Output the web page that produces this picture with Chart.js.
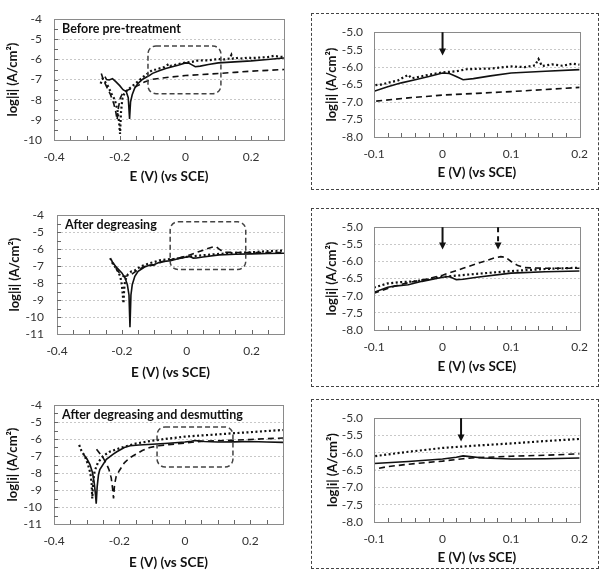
<!DOCTYPE html>
<html>
<head>
<meta charset="utf-8">
<script src="https://cdn.jsdelivr.net/npm/chart.js@4.4.1/dist/chart.umd.min.js"></script>
<style>
body { margin: 0; background: #fff; width: 608px; height: 570px; overflow: hidden; position: relative; }
.pane { position: absolute; }
.zoombox { position: absolute; border: 1.5px dashed #444; box-sizing: border-box; }
</style>
</head>
<body>
<div class="zoombox" style="left:311px;top:13px;width:288px;height:177px"></div>
<div class="zoombox" style="left:311px;top:208px;width:288px;height:179px"></div>
<div class="zoombox" style="left:311px;top:399px;width:288px;height:170px"></div>

<div class="pane" style="left:0;top:0;width:300px;height:190px"><canvas id="c1"></canvas></div>
<div class="pane" style="left:312px;top:14px;width:286px;height:175px"><canvas id="c2"></canvas></div>
<div class="pane" style="left:0;top:195px;width:300px;height:190px"><canvas id="c3"></canvas></div>
<div class="pane" style="left:312px;top:209px;width:286px;height:177px"><canvas id="c4"></canvas></div>
<div class="pane" style="left:0;top:385px;width:300px;height:190px"><canvas id="c5"></canvas></div>
<div class="pane" style="left:312px;top:400px;width:286px;height:168px"><canvas id="c6"></canvas></div>

<script>
// tick labels
const wideXTicks = [-0.4, -0.2, 0, 0.2];
const zoomXTicks = [-0.1, 0, 0.1, 0.2];
const beforeYTicks = [-4, -5, -6, -7, -8, -9, -10];
const laterYTicks = [-4, -5, -6, -7, -8, -9, -10, -11];
const zoomYTicks = [-5, -5.5, -6, -6.5, -7, -7.5, -8];

// [E (V), log|i|] - before pre-treatment
const beforeSolid = [[-0.245,-6.85],[-0.24,-7.0],[-0.232,-7.02],[-0.222,-6.95],[-0.212,-7.1],[-0.2,-7.3],[-0.19,-7.5],[-0.18,-7.6],[-0.174,-7.9],[-0.17,-8.95],[-0.167,-8.1],[-0.162,-7.75],[-0.155,-7.45],[-0.145,-7.2],[-0.13,-6.98],[-0.11,-6.8],[-0.1,-6.69],[-0.08,-6.56],[-0.06,-6.45],[-0.04,-6.36],[-0.02,-6.27],[0,-6.17],[0.01,-6.18],[0.02,-6.27],[0.03,-6.36],[0.045,-6.33],[0.07,-6.25],[0.1,-6.17],[0.15,-6.12],[0.2,-6.07],[0.25,-6.0],[0.3,-5.93]];
const beforeDashed = [[-0.256,-6.7],[-0.25,-7.0],[-0.24,-7.35],[-0.228,-7.75],[-0.218,-8.2],[-0.212,-8.6],[-0.208,-9.0],[-0.204,-8.4],[-0.198,-7.9],[-0.19,-7.65],[-0.18,-7.55],[-0.165,-7.45],[-0.145,-7.3],[-0.125,-7.12],[-0.1,-6.98],[-0.05,-6.88],[0,-6.8],[0.05,-6.75],[0.1,-6.7],[0.15,-6.64],[0.2,-6.58],[0.25,-6.54],[0.3,-6.5]];
const beforeDotted = [[-0.258,-7.2],[-0.252,-6.95],[-0.245,-7.1],[-0.235,-7.35],[-0.225,-7.7],[-0.215,-8.0],[-0.207,-8.5],[-0.202,-9.1],[-0.199,-9.7],[-0.196,-8.6],[-0.192,-7.95],[-0.185,-7.65],[-0.175,-7.5],[-0.16,-7.3],[-0.145,-7.1],[-0.13,-6.88],[-0.115,-6.7],[-0.1,-6.52],[-0.09,-6.5],[-0.08,-6.45],[-0.065,-6.38],[-0.05,-6.22],[-0.045,-6.32],[-0.03,-6.26],[-0.015,-6.2],[0,-6.15],[0.02,-6.12],[0.035,-6.06],[0.05,-6.05],[0.07,-6.04],[0.09,-6.0],[0.1,-5.98],[0.12,-6.0],[0.135,-5.95],[0.14,-5.77],[0.145,-5.97],[0.16,-5.92],[0.175,-5.96],[0.19,-5.9],[0.2,-5.93],[0.23,-5.9],[0.25,-5.88],[0.27,-5.82],[0.28,-5.85],[0.3,-5.88]];

// after degreasing
const degSolid = [[-0.227,-6.8],[-0.22,-7.0],[-0.21,-7.2],[-0.2,-7.4],[-0.19,-7.7],[-0.183,-8.1],[-0.178,-8.7],[-0.175,-10.6],[-0.172,-8.7],[-0.168,-8.1],[-0.16,-7.6],[-0.15,-7.3],[-0.13,-7.05],[-0.113,-6.94],[-0.1,-6.9],[-0.08,-6.75],[-0.07,-6.72],[-0.05,-6.68],[-0.03,-6.58],[0,-6.46],[0.01,-6.44],[0.02,-6.53],[0.03,-6.52],[0.05,-6.46],[0.1,-6.34],[0.15,-6.3],[0.2,-6.28],[0.25,-6.26],[0.3,-6.24]];
const degDashed = [[-0.233,-6.6],[-0.226,-6.9],[-0.216,-7.2],[-0.205,-7.45],[-0.195,-7.6],[-0.185,-7.58],[-0.17,-7.48],[-0.15,-7.22],[-0.13,-7.02],[-0.1,-6.93],[-0.07,-6.72],[-0.05,-6.62],[-0.02,-6.5],[0,-6.4],[0.03,-6.2],[0.06,-6.0],[0.075,-5.9],[0.085,-5.86],[0.092,-5.88],[0.1,-6.0],[0.11,-6.12],[0.12,-6.18],[0.15,-6.2],[0.2,-6.2],[0.25,-6.2],[0.3,-6.2]];
const degDotted = [[-0.236,-6.53],[-0.228,-6.85],[-0.215,-7.2],[-0.205,-7.6],[-0.2,-8.1],[-0.197,-8.7],[-0.195,-9.2],[-0.193,-8.4],[-0.19,-7.85],[-0.182,-7.5],[-0.17,-7.3],[-0.159,-7.24],[-0.14,-7.0],[-0.113,-6.82],[-0.1,-6.76],[-0.08,-6.64],[-0.06,-6.6],[-0.04,-6.58],[-0.02,-6.52],[0,-6.45],[0.05,-6.36],[0.1,-6.28],[0.15,-6.22],[0.2,-6.18],[0.25,-6.12],[0.3,-6.08]];

// after degreasing and desmutting
const desSolid = [[-0.31,-6.9],[-0.3,-7.15],[-0.29,-7.5],[-0.282,-8.0],[-0.277,-8.6],[-0.273,-9.3],[-0.271,-9.8],[-0.268,-8.8],[-0.264,-8.1],[-0.26,-7.8],[-0.24,-7.2],[-0.22,-6.9],[-0.208,-6.75],[-0.185,-6.5],[-0.167,-6.4],[-0.14,-6.35],[-0.1,-6.31],[-0.05,-6.25],[0,-6.18],[0.02,-6.13],[0.03,-6.09],[0.04,-6.11],[0.06,-6.15],[0.1,-6.18],[0.15,-6.17],[0.2,-6.15],[0.25,-6.18],[0.3,-6.2]];
const desDashed = [[-0.27,-6.6],[-0.26,-6.85],[-0.25,-7.1],[-0.24,-7.45],[-0.232,-7.8],[-0.225,-8.3],[-0.221,-8.9],[-0.218,-9.5],[-0.215,-8.7],[-0.21,-8.2],[-0.2,-7.85],[-0.185,-7.4],[-0.168,-7.1],[-0.15,-6.9],[-0.13,-6.68],[-0.107,-6.5],[-0.08,-6.4],[-0.05,-6.33],[0,-6.24],[0.03,-6.17],[0.05,-6.14],[0.1,-6.1],[0.15,-6.07],[0.2,-6.03],[0.25,-5.98],[0.3,-5.94]];
const desDotted = [[-0.323,-6.35],[-0.316,-6.7],[-0.306,-7.0],[-0.296,-7.5],[-0.289,-8.0],[-0.285,-8.6],[-0.283,-9.5],[-0.28,-8.5],[-0.276,-7.9],[-0.266,-7.4],[-0.25,-7.0],[-0.23,-6.75],[-0.2,-6.55],[-0.17,-6.37],[-0.15,-6.27],[-0.1,-6.1],[-0.05,-5.97],[0,-5.86],[0.05,-5.79],[0.1,-5.73],[0.15,-5.66],[0.2,-5.6],[0.25,-5.53],[0.3,-5.47]];

// zoom windows [E from, E to, log top, log bottom]
const boxBefore = [-0.114, 0.108, -5.33, -7.7];
const boxDegreasing = [-0.051, 0.182, -4.39, -7.2];
const boxDesmutting = [-0.085, 0.147, -5.29, -7.65];

// arrows [E, log|i| at tip, dashed]
const arrowsBefore = [[0, -5.67, false]];
const arrowsDegreasing = [[0, -5.65, false], [0.081, -5.65, true]];
const arrowsDesmutting = [[0.027, -5.67, false]];

const FONT = "Lato, 'Open Sans', sans-serif";
const decor = {};

const panelDecor = {
    id: "panelDecor",
    afterDraw(chart) {
        const d = decor[chart.canvas.id];
        const { ctx, chartArea: a } = chart;
        const x = chart.scales.x, y = chart.scales.y;
        ctx.save();
        // plot frame
        ctx.strokeStyle = "#8a8a8a";
        ctx.lineWidth = 1;
        ctx.strokeRect(Math.round(a.left) + 0.5, Math.round(a.top) + 0.5, Math.round(a.width), Math.round(a.height));
        // inward minor ticks
        ctx.strokeStyle = "#666";
        ctx.beginPath();
        for (let i = 1; x.min + i * d.minorX < x.max - 1e-9; i++) {
            const px = Math.round(x.getPixelForValue(x.min + i * d.minorX)) + 0.5;
            ctx.moveTo(px, a.bottom);
            ctx.lineTo(px, a.bottom - 4);
        }
        if (d.minorY) {
            for (let i = 1; y.min + i * d.minorY < y.max - 1e-9; i++) {
                const py = Math.round(y.getPixelForValue(y.min + i * d.minorY)) + 0.5;
                ctx.moveTo(a.left, py);
                ctx.lineTo(a.left + 4, py);
            }
        }
        ctx.stroke();
        // zoom window
        if (d.box) {
            const x0 = x.getPixelForValue(d.box[0]), x1 = x.getPixelForValue(d.box[1]);
            const y0 = y.getPixelForValue(d.box[2]), y1 = y.getPixelForValue(d.box[3]);
            ctx.strokeStyle = "#444";
            ctx.lineWidth = 1.5;
            ctx.setLineDash([5, 3]);
            ctx.beginPath();
            ctx.roundRect(x0, y0, x1 - x0, y1 - y0, 8);
            ctx.stroke();
            ctx.setLineDash([]);
        }
        // arrows
        (d.arrows || []).forEach(([e, tip, dashed]) => {
            const px = x.getPixelForValue(e), py = y.getPixelForValue(tip);
            ctx.strokeStyle = "#111";
            ctx.fillStyle = "#111";
            ctx.lineWidth = 2;
            ctx.setLineDash(dashed ? [5, 4] : []);
            ctx.beginPath();
            ctx.moveTo(px, a.top);
            ctx.lineTo(px, py - 6);
            ctx.stroke();
            ctx.setLineDash([]);
            ctx.beginPath();
            ctx.moveTo(px - 3.5, py - 7);
            ctx.lineTo(px + 3.5, py - 7);
            ctx.lineTo(px, py);
            ctx.closePath();
            ctx.fill();
        });
        // panel caption
        if (d.label) {
            ctx.fillStyle = "#111";
            ctx.font = "bold 12.5px " + FONT;
            ctx.textBaseline = "middle";
            ctx.fillText(d.label, a.left + 8, a.top + 10);
        }
        ctx.restore();
    }
};

function series(pts, style) {
    const base = { data: pts.map(p => ({ x: p[0], y: p[1] })), borderColor: "#111", pointRadius: 0, fill: false, tension: 0 };
    if (style === "dashed") return Object.assign(base, { borderWidth: 1.6, borderDash: [6, 4] });
    if (style === "dotted") return Object.assign(base, { borderWidth: 2.2, borderDash: [2, 2.5] });
    return Object.assign(base, { borderWidth: 1.6 });
}

function makePanel(p) {
    decor[p.id] = p;
    const pane = document.getElementById(p.id).parentNode;
    const bx = pane.offsetLeft, by = pane.offsetTop, bw = pane.offsetWidth, bh = pane.offsetHeight;
    const yWidth = p.area[0] - bx;
    const xHeight = by + bh - p.area[3];
    const zoomed = p.xTicks === zoomXTicks;
    new Chart(document.getElementById(p.id), {
        type: "line",
        data: { datasets: p.lines },
        options: {
            animation: false,
            responsive: true,
            maintainAspectRatio: false,
            events: [],
            layout: { padding: { top: p.area[1] - by, right: bx + bw - p.area[2], bottom: 0, left: 0 } },
            plugins: { legend: { display: false }, tooltip: { enabled: false } },
            scales: {
                x: {
                    type: "linear",
                    min: p.x[0],
                    max: p.x[1],
                    afterBuildTicks: s => { s.ticks = p.xTicks.map(v => ({ value: v })); },
                    afterFit: s => { s.height = xHeight; },
                    grid: { display: false, drawTicks: false },
                    border: { display: false },
                    ticks: { padding: 10, autoSkip: false, maxRotation: 0, color: "#333", font: { family: FONT, size: 12 },
                             callback: v => v === 0 ? "0" : String(+v.toFixed(2)) },
                    title: { display: true, text: "E (V) (vs SCE)", color: "#111",
                             font: { family: FONT, size: 13.5, weight: "bold", lineHeight: 1.2 },
                             padding: { top: 0, bottom: xHeight - p.titleGap - 8.1 } }
                },
                y: {
                    min: p.y[0],
                    max: p.y[1],
                    afterBuildTicks: s => { s.ticks = p.yTicks.map(v => ({ value: v })); },
                    afterFit: s => { s.width = yWidth; },
                    grid: { color: "#c8c8c8", drawTicks: false },
                    border: { display: false, dash: [2, 2] },
                    ticks: { padding: p.labelPad, autoSkip: false, color: "#333", font: { family: FONT, size: 12 },
                             callback: v => zoomed ? v.toFixed(1) : String(v) },
                    title: { display: true, text: "log|i| (A/cm²)", color: "#111",
                             font: { family: FONT, size: 13, weight: "bold", lineHeight: 1.2 },
                             padding: { top: p.yTitleX - bx - 7.8, bottom: 0 } }
                }
            }
        },
        plugins: [panelDecor]
    });
}

makePanel({ id: "c1", area: [54, 18, 284, 140], x: [-0.4, 0.3], y: [-10, -4], xTicks: wideXTicks, yTicks: beforeYTicks,
    lines: [series(beforeSolid), series(beforeDashed, "dashed"), series(beforeDotted, "dotted")],
    label: "Before pre-treatment", box: boxBefore, minorX: 0.05, minorY: 0.5, titleGap: 37, labelPad: 12, yTitleX: 13 });
makePanel({ id: "c2", area: [374, 25, 583, 137], x: [-0.1, 0.2], y: [-8, -5], xTicks: zoomXTicks, yTicks: zoomYTicks,
    lines: [series(beforeSolid), series(beforeDashed, "dashed"), series(beforeDotted, "dotted")],
    arrows: arrowsBefore, minorX: 0.02, titleGap: 36, labelPad: 11, yTitleX: 332 });
makePanel({ id: "c3", area: [57, 215, 284, 334], x: [-0.4, 0.3], y: [-11, -4], xTicks: wideXTicks, yTicks: laterYTicks,
    lines: [series(degSolid), series(degDashed, "dashed"), series(degDotted, "dotted")],
    label: "After degreasing", box: boxDegreasing, minorX: 0.05, minorY: 0.5, titleGap: 39, labelPad: 13, yTitleX: 15 });
makePanel({ id: "c4", area: [374, 219, 583, 330], x: [-0.1, 0.2], y: [-8, -5], xTicks: zoomXTicks, yTicks: zoomYTicks,
    lines: [series(degSolid), series(degDashed, "dashed"), series(degDotted, "dotted")],
    arrows: arrowsDegreasing, minorX: 0.02, titleGap: 37, labelPad: 11, yTitleX: 332 });
makePanel({ id: "c5", area: [54, 405, 283, 524], x: [-0.4, 0.3], y: [-11, -4], xTicks: wideXTicks, yTicks: laterYTicks,
    lines: [series(desSolid), series(desDashed, "dashed"), series(desDotted, "dotted")],
    label: "After degreasing and desmutting", box: boxDesmutting, minorX: 0.05, minorY: 0.5, titleGap: 39, labelPad: 12, yTitleX: 13 });
makePanel({ id: "c6", area: [374, 412, 583, 522], x: [-0.1, 0.2], y: [-8, -5], xTicks: zoomXTicks, yTicks: zoomYTicks,
    lines: [series(desSolid), series(desDashed, "dashed"), series(desDotted, "dotted")],
    arrows: arrowsDesmutting, minorX: 0.02, titleGap: 36, labelPad: 11, yTitleX: 333 });
</script>
</body>
</html>
